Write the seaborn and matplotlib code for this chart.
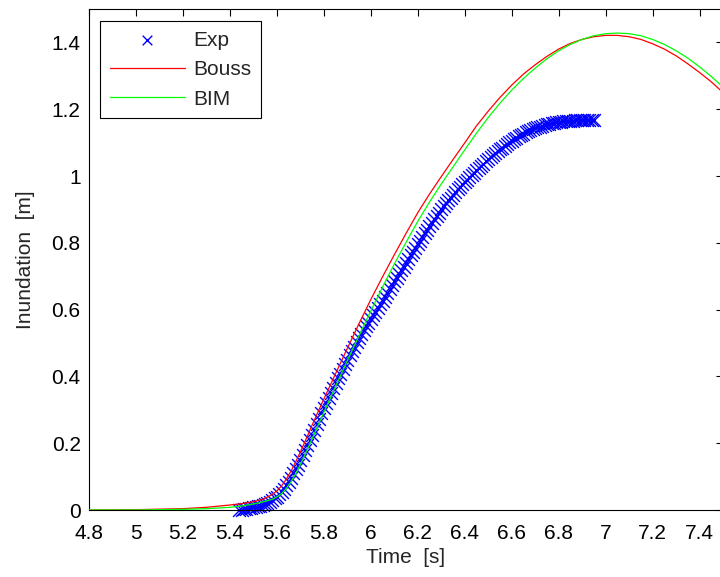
import numpy as np
import pandas as pd
import matplotlib
matplotlib.use("Agg")
import matplotlib.pyplot as plt
import seaborn as sns
from matplotlib.ticker import FuncFormatter

# ---- data ----
exp_t = [5.44, 5.45, 5.46, 5.47, 5.48, 5.49, 5.50, 5.51, 5.52, 5.53, 5.54, 5.55, 5.56, 5.57,
         5.58, 5.59, 5.60, 5.61, 5.62, 5.63, 5.64, 5.65, 5.66, 5.67, 5.68, 5.69, 5.70, 5.71,
         5.72, 5.73, 5.74, 5.75, 5.76, 5.77, 5.78, 5.79, 5.80, 5.81, 5.82, 5.83, 5.84, 5.85,
         5.86, 5.87, 5.88, 5.89, 5.90, 5.91, 5.92, 5.93, 5.94, 5.95, 5.96, 5.97, 5.98, 5.99,
         6.00, 6.01, 6.02, 6.03, 6.04, 6.05, 6.06, 6.07, 6.08, 6.09, 6.10, 6.11, 6.12, 6.13,
         6.14, 6.15, 6.16, 6.17, 6.18, 6.19, 6.20, 6.21, 6.22, 6.23, 6.24, 6.25, 6.26, 6.27,
         6.28, 6.29, 6.30, 6.31, 6.32, 6.33, 6.34, 6.35, 6.36, 6.37, 6.38, 6.39, 6.40, 6.41,
         6.42, 6.43, 6.44, 6.45, 6.46, 6.47, 6.48, 6.49, 6.50, 6.51, 6.52, 6.53, 6.54, 6.55,
         6.56, 6.57, 6.58, 6.59, 6.60, 6.61, 6.62, 6.63, 6.64, 6.65, 6.66, 6.67, 6.68, 6.69,
         6.70, 6.71, 6.72, 6.73, 6.74, 6.75, 6.76, 6.77, 6.78, 6.79, 6.80, 6.81, 6.82, 6.83,
         6.84, 6.85, 6.86, 6.87, 6.88, 6.89, 6.90, 6.91, 6.92, 6.93, 6.94, 6.95]
exp_y = [0.000, 0.001, 0.002, 0.003, 0.005, 0.006, 0.008, 0.009, 0.011, 0.013, 0.015, 0.018, 0.021, 0.025,
         0.030, 0.035, 0.040, 0.047, 0.055, 0.064, 0.074, 0.085, 0.097, 0.110, 0.123, 0.136, 0.150, 0.165,
         0.180, 0.195, 0.210, 0.225, 0.241, 0.257, 0.273, 0.289, 0.305, 0.320, 0.335, 0.350, 0.365, 0.380,
         0.394, 0.408, 0.422, 0.436, 0.450, 0.463, 0.476, 0.489, 0.502, 0.515, 0.527, 0.539, 0.550, 0.561,
         0.572, 0.583, 0.594, 0.605, 0.616, 0.627, 0.638, 0.650, 0.662, 0.674, 0.685, 0.696, 0.707, 0.718,
         0.729, 0.740, 0.751, 0.762, 0.773, 0.784, 0.795, 0.806, 0.817, 0.828, 0.839, 0.850, 0.860, 0.870,
         0.880, 0.890, 0.900, 0.909, 0.918, 0.927, 0.935, 0.944, 0.952, 0.960, 0.967, 0.975, 0.982, 0.989,
         0.996, 1.003, 1.010, 1.017, 1.024, 1.031, 1.037, 1.044, 1.050, 1.056, 1.062, 1.068, 1.074, 1.080,
         1.085, 1.091, 1.096, 1.101, 1.106, 1.111, 1.115, 1.119, 1.123, 1.127, 1.131, 1.134, 1.137, 1.140,
         1.143, 1.146, 1.148, 1.151, 1.153, 1.155, 1.157, 1.159, 1.160, 1.161, 1.162, 1.163, 1.164, 1.164,
         1.165, 1.166, 1.166, 1.167, 1.167, 1.167, 1.167, 1.167, 1.167, 1.167, 1.167, 1.167]

model_t = [4.80, 5.00, 5.20, 5.30, 5.40, 5.45, 5.50, 5.54, 5.58, 5.60, 5.62, 5.64, 5.66, 5.68,
           5.70, 5.72, 5.75, 5.80, 5.85, 5.90, 5.95, 6.00, 6.05, 6.10, 6.15, 6.20, 6.25, 6.30,
           6.35, 6.40, 6.45, 6.50, 6.55, 6.60, 6.65, 6.70, 6.75, 6.80, 6.85, 6.90, 6.95, 7.00,
           7.05, 7.10, 7.15, 7.20, 7.25, 7.30, 7.35, 7.40, 7.45, 7.50, 7.55]
bouss_y = [0.000, 0.001, 0.004, 0.008, 0.015, 0.019, 0.025, 0.032, 0.046, 0.057, 0.072, 0.092, 0.116, 0.144,
           0.174, 0.205, 0.254, 0.332, 0.408, 0.484, 0.558, 0.630, 0.698, 0.764, 0.828, 0.890, 0.946, 0.998,
           1.049, 1.099, 1.150, 1.194, 1.235, 1.272, 1.305, 1.333, 1.358, 1.380, 1.397, 1.409, 1.417, 1.421,
           1.421, 1.417, 1.409, 1.396, 1.380, 1.360, 1.336, 1.310, 1.282, 1.250, 1.215]
bim_y = [0.000, 0.000, 0.002, 0.004, 0.008, 0.012, 0.018, 0.024, 0.032, 0.039, 0.049, 0.064, 0.084, 0.108,
         0.136, 0.166, 0.213, 0.292, 0.370, 0.447, 0.522, 0.596, 0.667, 0.736, 0.801, 0.864, 0.922, 0.976,
         1.027, 1.078, 1.128, 1.175, 1.218, 1.257, 1.292, 1.323, 1.351, 1.375, 1.394, 1.409, 1.420, 1.426,
         1.428, 1.426, 1.420, 1.409, 1.394, 1.375, 1.353, 1.327, 1.298, 1.266, 1.232]

x_ticks = [4.8, 5.0, 5.2, 5.4, 5.6, 5.8, 6.0, 6.2, 6.4, 6.6, 6.8, 7.0, 7.2, 7.4]
y_ticks = [0, 0.2, 0.4, 0.6, 0.8, 1.0, 1.2, 1.4]

# ---- style ----
sns.set_style("white")
plt.rcParams['font.family'] = ['Liberation Sans', 'DejaVu Sans']
FS = 15

fig = plt.figure(figsize=(7.2, 5.77), dpi=100)
ax = fig.add_axes([89 / 720, 67 / 577, 634 / 720, 501 / 577])

exp_df = pd.DataFrame({"t": exp_t, "y": exp_y})
mod_df = pd.DataFrame({"t": model_t, "Bouss": bouss_y, "BIM": bim_y})

sns.scatterplot(data=exp_df, x="t", y="y", marker="x", color=(0, 0, 1), s=85,
                linewidth=1.0, ax=ax, label="Exp", clip_on=False, zorder=2)
sns.lineplot(data=mod_df, x="t", y="Bouss", color=(1, 0, 0), linewidth=0.9,
             ax=ax, label="Bouss", zorder=3)
sns.lineplot(data=mod_df, x="t", y="BIM", color=(0, 1, 0), linewidth=0.9,
             ax=ax, label="BIM", zorder=3)

ax.set_xlim(4.8, 7.5)
ax.set_ylim(0, 1.5)
ax.set_xticks(x_ticks)
ax.set_yticks(y_ticks)
fmt = FuncFormatter(lambda v, p: f"{v:g}")
ax.xaxis.set_major_formatter(fmt)
ax.yaxis.set_major_formatter(fmt)
ax.tick_params(direction="in", length=5, width=0.8, top=True, right=True,
               labelsize=FS, colors="black")
ax.tick_params(axis="x", pad=10)
ax.tick_params(axis="y", pad=6)
for s in ax.spines.values():
    s.set_visible(True)
    s.set_color("black")
    s.set_linewidth(0.8)

ax.set_xlabel("Time  [s]", fontsize=FS, labelpad=3.5)
ax.set_ylabel("Inundation  [m]", fontsize=FS, labelpad=12)

leg = ax.legend(loc="upper left", bbox_to_anchor=(0.0174, 0.976), borderaxespad=0,
                fontsize=FS, frameon=True, fancybox=False, edgecolor="black",
                handlelength=3.6, handletextpad=0.4, labelspacing=0.5, borderpad=0.47,
                markerscale=0.75)
leg.get_frame().set_linewidth(0.8)
leg.get_frame().set_alpha(1)

fig.savefig("out.png", dpi=100)
